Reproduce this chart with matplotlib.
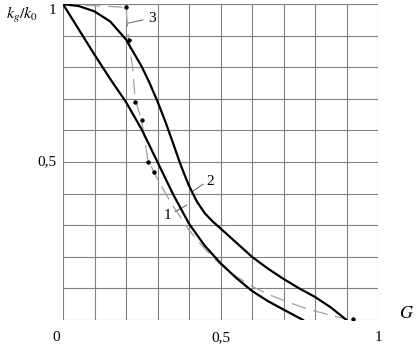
import numpy as np
import matplotlib
matplotlib.use("Agg")
import matplotlib.pyplot as plt

plt.rcParams['font.family'] = ['Liberation Serif', 'DejaVu Serif']
plt.rcParams['mathtext.fontset'] = 'stix'

# curve 1 (steeper solid line)
g1 = [0, 0.05, 0.1, 0.15, 0.2, 0.25, 0.3, 0.35, 0.4, 0.45, 0.5, 0.55, 0.6, 0.65, 0.7, 0.762]
k1 = [1, 0.92, 0.84, 0.763, 0.69, 0.603, 0.5, 0.397, 0.305, 0.235, 0.18, 0.133, 0.092, 0.06, 0.033, 0.0]

# curve 2 (upper solid line)
g2 = [0, 0.05, 0.1, 0.15, 0.2, 0.25, 0.275, 0.3, 0.325, 0.35, 0.375, 0.4, 0.425, 0.45, 0.475, 0.5,
      0.55, 0.6, 0.65, 0.7, 0.75, 0.8, 0.85, 0.9]
k2 = [1, 0.994, 0.977, 0.945, 0.888, 0.802, 0.75, 0.692, 0.628, 0.558, 0.487, 0.425, 0.375, 0.338, 0.312, 0.29,
      0.245, 0.2, 0.163, 0.13, 0.1, 0.073, 0.04, 0.0]

# curve 3 (dashed fit) and measured points
g3 = [0, 0.2, 0.208, 0.221, 0.229, 0.25, 0.269, 0.29, 0.32, 0.35, 0.4, 0.45, 0.5, 0.55,
      0.6, 0.65, 0.7, 0.775, 0.857, 0.9]
k3 = [1, 0.99, 0.888, 0.80, 0.70, 0.63, 0.51, 0.465, 0.41, 0.36, 0.285, 0.225, 0.175, 0.138,
      0.107, 0.082, 0.062, 0.035, 0.013, 0.003]
g_pts = [0.2, 0.208, 0.229, 0.25, 0.269, 0.29, 0.92]
k_pts = [0.99, 0.888, 0.69, 0.632, 0.5, 0.47, 0.003]

fig = plt.figure(figsize=(4.2, 3.45), dpi=100)
ax = fig.add_axes([0.15, 0.0725, 0.75, 0.9155])

# grid
for v in np.arange(0, 1.01, 0.1):
    ax.axvline(v, color='#808080', lw=0.8, zorder=1)
    ax.axhline(v, color='#808080', lw=0.8, zorder=1)

ax.plot(g3, k3, color='#a0a0a0', lw=0.9, ls=(0, (12, 6)), zorder=2)
ax.plot(g1, k1, color='black', lw=1.6, zorder=3)
ax.plot(g2, k2, color='black', lw=1.6, zorder=3)
ax.plot(g_pts, k_pts, 'o', color='black', ms=2.2, zorder=4)

# curve labels with leader lines
ax.plot([0.207, 0.254], [0.94, 0.95], color='#606060', lw=0.7)
ax.text(0.27, 0.955, '3', fontsize=11, va='center', ha='left')
ax.plot([0.408, 0.445], [0.405, 0.43], color='#606060', lw=0.7)
ax.text(0.455, 0.44, '2', fontsize=11, va='center', ha='left')
ax.plot([0.356, 0.393], [0.343, 0.364], color='#606060', lw=0.7)
ax.text(0.345, 0.33, '1', fontsize=11, va='center', ha='right')

ax.set_xlim(0, 1)
ax.set_ylim(0, 1)
ax.axis('off')

# tick labels
ax.text(-0.022, -0.035, '0', fontsize=11, ha='center', va='top')
ax.text(0.5, -0.035, '0,5', fontsize=11, ha='center', va='top')
ax.text(1.0, -0.035, '1', fontsize=11, ha='center', va='top')
ax.text(-0.02, 0.5, '0,5', fontsize=11, ha='right', va='center')
ax.text(-0.02, 0.98, '1', fontsize=11, ha='right', va='center')
ax.text(1.092, 0.022, '$G$', fontsize=13, ha='center', va='center')
ax.text(-0.13, 0.965, '$k_g/k_0$', fontsize=11.5, ha='center', va='center')

fig.savefig('out.png', dpi=100)
